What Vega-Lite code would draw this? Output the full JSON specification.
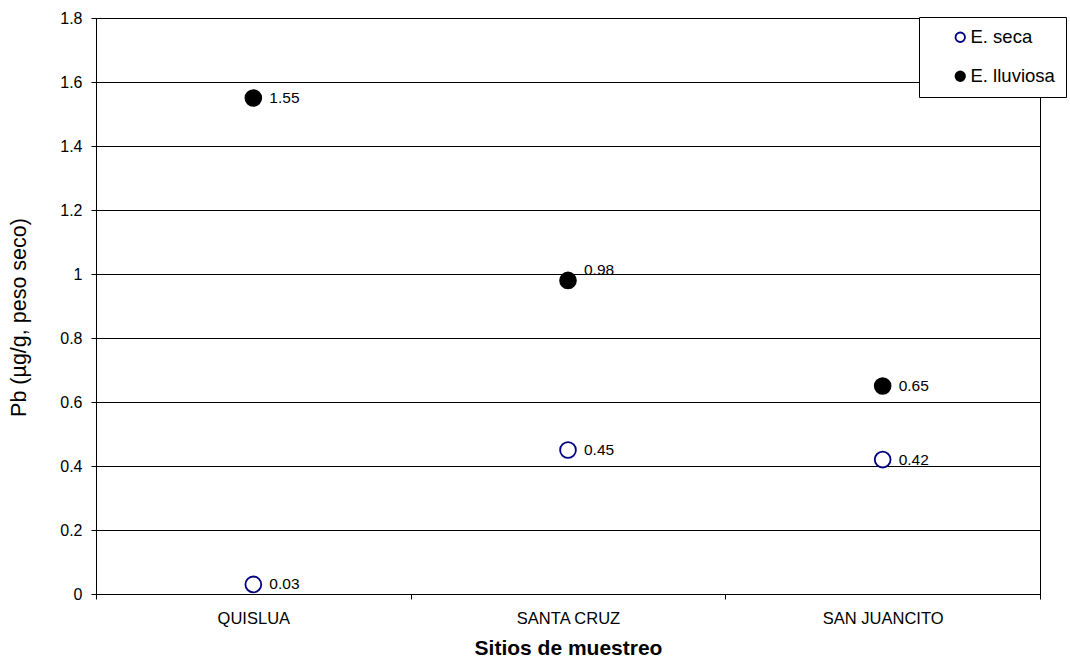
{
  "$schema": "https://vega.github.io/schema/vega-lite/v6.json",
  "width": 944,
  "height": 576,
  "autosize": "none",
  "padding": {"left": 96, "top": 18, "right": 30, "bottom": 64},
  "background": "white",
  "config": {
    "font": "Liberation Sans",
    "view": {"stroke": "black", "strokeWidth": 1}
  },
  "data": {
    "values": [
      {"sitio": "QUISLUA", "epoca": "E. seca", "pb": 0.03},
      {"sitio": "QUISLUA", "epoca": "E. lluviosa", "pb": 1.55},
      {"sitio": "SANTA CRUZ", "epoca": "E. seca", "pb": 0.45},
      {"sitio": "SANTA CRUZ", "epoca": "E. lluviosa", "pb": 0.98},
      {"sitio": "SAN JUANCITO", "epoca": "E. seca", "pb": 0.42},
      {"sitio": "SAN JUANCITO", "epoca": "E. lluviosa", "pb": 0.65}
    ]
  },
  "encoding": {
    "x": {
      "field": "sitio",
      "type": "nominal",
      "sort": ["QUISLUA", "SANTA CRUZ", "SAN JUANCITO"],
      "scale": {"type": "band", "paddingInner": 0, "paddingOuter": 0},
      "axis": {
        "title": "Sitios de muestreo",
        "titleFontSize": 21,
        "titleFontWeight": "bold",
        "titleColor": "black",
        "titlePadding": 11,
        "labelFontSize": 16.5,
        "labelColor": "black",
        "labelAngle": 0,
        "labelPadding": 11,
        "tickBand": "extent",
        "tickColor": "black",
        "tickSize": 5,
        "domainColor": "black",
        "grid": false
      }
    },
    "y": {
      "field": "pb",
      "type": "quantitative",
      "scale": {"domain": [0, 1.8], "nice": false, "zero": true},
      "axis": {
        "title": "Pb (µg/g, peso seco)",
        "titleFontSize": 21.5,
        "titleFontWeight": "normal",
        "titleColor": "black",
        "titlePadding": 29,
        "titleY": 299,
        "values": [0, 0.2, 0.4, 0.6, 0.8, 1, 1.2, 1.4, 1.6, 1.8],
        "format": "~g",
        "labelFontSize": 16,
        "labelColor": "black",
        "labelPadding": 9,
        "tickColor": "black",
        "tickSize": 5,
        "domainColor": "black",
        "grid": true,
        "gridColor": "black",
        "gridOpacity": 1
      }
    }
  },
  "layer": [
    {
      "mark": {"type": "point", "size": 250, "strokeWidth": 1.8, "opacity": 1},
      "encoding": {
        "stroke": {
          "field": "epoca",
          "type": "nominal",
          "scale": {"domain": ["E. seca", "E. lluviosa"], "range": ["#000080", "#000000"]},
          "legend": {
            "orient": "none",
            "legendX": 823,
            "legendY": -1,
            "title": null,
            "padding": 11,
            "strokeColor": "black",
            "fillColor": "white",
            "symbolType": "circle",
            "symbolSize": 90,
            "symbolStrokeWidth": 1.8,
            "symbolOffset": 21,
            "labelOffset": 1,
            "labelFontSize": 18.5,
            "labelColor": "black",
            "rowPadding": 20
          }
        },
        "fill": {
          "field": "epoca",
          "type": "nominal",
          "scale": {"domain": ["E. seca", "E. lluviosa"], "range": ["#ffffff", "#000000"]},
          "legend": {
            "orient": "none",
            "legendX": 823,
            "legendY": -1,
            "title": null,
            "padding": 11,
            "strokeColor": "black",
            "fillColor": "white",
            "symbolType": "circle",
            "symbolSize": 90,
            "symbolStrokeWidth": 1.8,
            "symbolOffset": 21,
            "labelOffset": 1,
            "labelFontSize": 18.5,
            "labelColor": "black",
            "rowPadding": 20
          }
        }
      }
    },
    {
      "transform": [{"filter": "datum.pb != 0.98"}],
      "mark": {"type": "text", "align": "left", "baseline": "middle", "dx": 16, "fontSize": 15.5, "color": "black"},
      "encoding": {"text": {"field": "pb", "type": "quantitative", "format": ".2f"}}
    },
    {
      "transform": [{"filter": "datum.pb == 0.98"}],
      "mark": {"type": "text", "align": "left", "baseline": "middle", "dx": 16, "dy": -10, "fontSize": 15.5, "color": "black"},
      "encoding": {"text": {"field": "pb", "type": "quantitative", "format": ".2f"}}
    }
  ]
}
